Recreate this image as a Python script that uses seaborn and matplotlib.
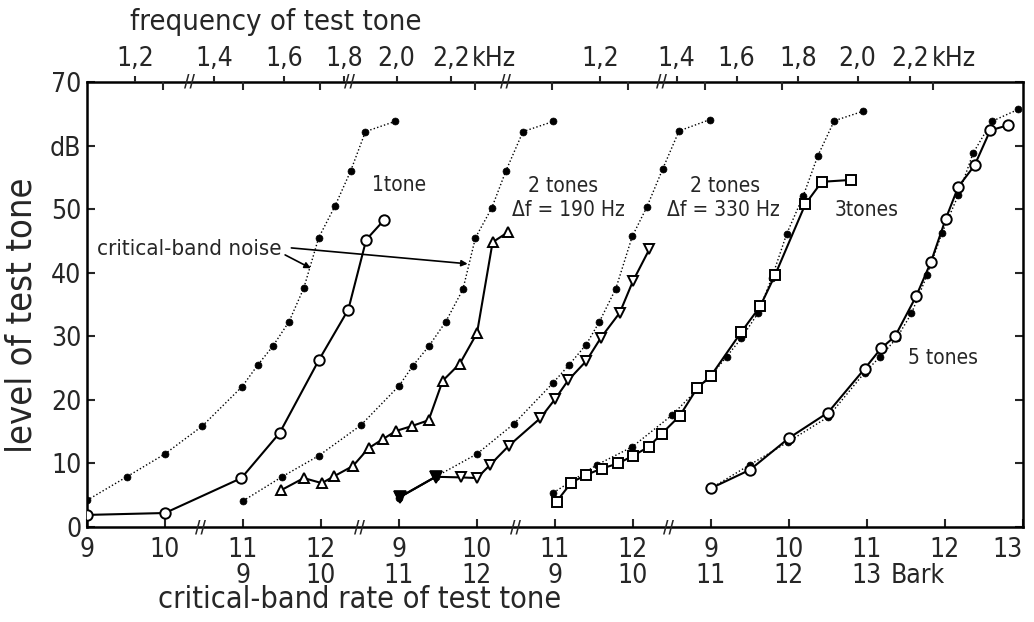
import numpy as np
import pandas as pd
import matplotlib
matplotlib.use("Agg")
import matplotlib.pyplot as plt
import matplotlib.transforms as mtrans
import seaborn as sns

# ---------------- data (x in critical-band-rate axis units of the composite abscissa, y in dB) ------------
noise_1_x = [9.0, 9.51, 10.0, 10.48, 10.99, 11.19, 11.38, 11.59, 11.78, 11.97, 12.18, 12.38, 12.57, 12.95]
noise_1_y = [4.2, 7.9, 11.5, 15.9, 22.1, 25.5, 28.4, 32.3, 37.6, 45.5, 50.5, 56.0, 62.2, 63.8]
tone_1_x = [9.0, 10.0, 10.98, 11.47, 11.97, 12.35, 12.58, 12.81]
tone_1_y = [1.9, 2.2, 7.7, 14.8, 26.2, 34.2, 45.2, 48.3]

noise_2a_x = [11.0, 11.5, 11.97, 12.51, 13.0, 13.18, 13.38, 13.6, 13.82, 13.98, 14.19, 14.37, 14.59, 14.98]
noise_2a_y = [4.1, 7.9, 11.2, 16.0, 22.2, 25.4, 28.4, 32.3, 37.4, 45.5, 50.2, 56.0, 62.2, 63.8]
tone_2a_x = [11.49, 11.78, 12.01, 12.17, 12.41, 12.61, 12.79, 12.96, 13.17, 13.38, 13.56, 13.78, 14.0, 14.2, 14.4]
tone_2a_y = [5.8, 7.7, 6.9, 8.0, 9.6, 12.4, 13.8, 15.1, 15.9, 16.8, 23.0, 25.7, 30.5, 44.8, 46.4]

noise_2b_x = [13.0, 13.47, 14.0, 14.47, 14.97, 15.18, 15.4, 15.57, 15.78, 15.99, 16.18, 16.38, 16.59, 16.99]
noise_2b_y = [4.6, 7.9, 11.5, 16.2, 22.6, 25.5, 28.7, 32.3, 37.5, 45.7, 50.4, 56.3, 62.3, 64.1]
tone_2b_x = [13.01, 13.47, 13.8, 14.0, 14.17, 14.41, 14.81, 15.0, 15.17, 15.4, 15.59, 15.83, 16.0, 16.21]
tone_2b_y = [4.7, 7.9, 7.8, 7.7, 9.8, 12.8, 17.1, 20.1, 23.1, 26.1, 29.8, 33.7, 38.7, 43.7]

noise_3_x = [14.98, 15.54, 15.99, 16.5, 17.0, 17.2, 17.39, 17.6, 17.78, 17.97, 18.18, 18.37, 18.58, 18.95]
noise_3_y = [5.4, 9.8, 12.6, 17.6, 23.8, 26.8, 29.7, 33.6, 39.2, 46.1, 52.0, 58.4, 63.9, 65.4]
tone_3_x = [15.02, 15.21, 15.4, 15.6, 15.81, 16.0, 16.2, 16.37, 16.6, 16.82, 17.0, 17.39, 17.63, 17.82, 18.21, 18.42, 18.8]
tone_3_y = [4.0, 7.0, 8.2, 9.2, 10.0, 11.2, 12.6, 14.7, 17.5, 21.8, 23.8, 30.7, 34.7, 39.6, 50.8, 54.3, 54.6]

noise_5_x = [17.0, 17.5, 17.99, 18.5, 18.97, 19.17, 19.38, 19.57, 19.77, 19.96, 20.17, 20.36, 20.6, 20.94]
noise_5_y = [6.1, 9.8, 13.4, 17.3, 24.3, 26.8, 29.7, 33.6, 39.6, 46.2, 52.2, 58.8, 63.8, 65.7]
tone_5_x = [17.0, 17.5, 18.0, 18.5, 18.97, 19.18, 19.36, 19.63, 19.82, 20.01, 20.17, 20.38, 20.58, 20.81]
tone_5_y = [6.1, 9.0, 14.0, 18.0, 24.9, 28.1, 30.0, 36.3, 41.7, 48.5, 53.5, 56.9, 62.4, 63.2]

# axis labels
bottom_ticks = list(range(9, 22))
bottom_row1 = ["9", "10", "11", "12", "9", "10", "11", "12", "9", "10", "11", "12", "13"]
bottom_row2 = ["", "", "9", "10", "11", "12", "9", "10", "11", "12", "13", "", ""]
top_freq_pos = [9.615, 10.63, 11.53, 12.3, 12.97, 13.67, 15.58, 16.56, 17.33, 18.12, 18.88, 19.55]
top_freq_labels = ["1,2", "1,4", "1,6", "1,8", "2,0", "2,2", "1,2", "1,4", "1,6", "1,8", "2,0", "2,2"]
top_minor_pos = [9.97, 11.0, 11.99, 13.97, 14.96, 15.94, 16.92, 17.91, 19.85]
y_ticks = [0, 10, 20, 30, 40, 50, 60, 70]
y_tick_labels = ["0", "10", "20", "30", "40", "50", "dB", "70"]
bottom_breaks = [10.45, 12.5, 14.49, 16.45]
top_breaks = [10.32, 12.37, 14.36, 16.37]

# ---------------- style ----------------
sns.set_style("white")
plt.rcParams["font.family"] = ["Liberation Sans Narrow", "DejaVu Sans"]
plt.rcParams["font.stretch"] = "condensed"
TICK_FS = 19
LAB_FS = 21
XLAB_FS = 22
YLAB_FS = 26
ANN_FS = 15

fig = plt.figure(figsize=(10.34, 6.22), dpi=100)
ax = fig.add_axes([87 / 1034, 1 - 527 / 622, (1023 - 87) / 1034, (527 - 82) / 622])

noise_kw = dict(color="black", lw=1.0, linestyle=(0, (1, 1.6)), marker="o", markersize=5,
                markerfacecolor="black", markeredgecolor="black", markeredgewidth=0.5)
tone_kw = dict(color="black", lw=1.5, linestyle="-", markersize=7.5, markerfacecolor="white",
               markeredgecolor="black", markeredgewidth=1.4)

series = [
    (noise_1_x, noise_1_y, tone_1_x, tone_1_y, "o"),
    (noise_2a_x, noise_2a_y, tone_2a_x, tone_2a_y, "^"),
    (noise_2b_x, noise_2b_y, tone_2b_x, tone_2b_y, "v"),
    (noise_3_x, noise_3_y, tone_3_x, tone_3_y, "s"),
    (noise_5_x, noise_5_y, tone_5_x, tone_5_y, "o"),
]
for nx, ny, tx, ty, mk in series:
    sns.lineplot(x=nx, y=ny, ax=ax, estimator=None, sort=False, zorder=3, **noise_kw)
for nx, ny, tx, ty, mk in series:
    sns.lineplot(x=tx, y=ty, ax=ax, estimator=None, sort=False, marker=mk, zorder=4, **tone_kw)
# the first two 2-tone (330 Hz) points coincide with the noise points and appear filled
sns.lineplot(x=tone_2b_x[:2], y=tone_2b_y[:2], ax=ax, estimator=None, sort=False, marker="v",
             zorder=5, color="black", lw=1.5, markersize=8, markerfacecolor="black",
             markeredgecolor="black", markeredgewidth=1.2)

ax.set_xlim(9, 21)
ax.set_ylim(0, 70)
ax.set_xlabel("")
ax.set_ylabel("")

for s in ax.spines.values():
    s.set_visible(True)
    s.set_linewidth(1.8)
    s.set_color("black")

ax.set_xticks(bottom_ticks)
ax.set_xticklabels([f"{a}\n{b}" if b else a for a, b in zip(bottom_row1, bottom_row2)],
                   fontsize=TICK_FS, linespacing=1.0, va="top")
last = ax.get_xticklabels()[-1]
last.set_ha("right")
last.set_transform(last.get_transform() + mtrans.ScaledTranslation(10 / 100, 0, fig.dpi_scale_trans))
ax.set_yticks(y_ticks)
ax.set_yticklabels(y_tick_labels, fontsize=TICK_FS)
ax.tick_params(axis="x", direction="in", length=6, width=1.5, pad=7, bottom=True, top=False)
ax.tick_params(axis="y", direction="in", length=6, width=1.5, pad=4, left=True, right=True, labelright=False)

ax2 = ax.twiny()
ax2.set_xlim(ax.get_xlim())
ax2.set_xticks(top_freq_pos)
ax2.set_xticklabels(top_freq_labels, fontsize=TICK_FS)
ax2.set_xticks(top_minor_pos, minor=True)
ax2.tick_params(axis="x", which="major", direction="out", length=4, width=1.5, pad=3)
ax2.tick_params(axis="x", which="minor", direction="in", length=6, width=1.5)
for s in ax2.spines.values():
    s.set_visible(False)
ax2.grid(False)
ax.grid(False)

xt = ax.get_xaxis_transform()
for b in bottom_breaks:
    ax.text(b, 0, "//", transform=xt, ha="center", va="center", fontsize=12, fontweight="bold",
            family="DejaVu Sans", clip_on=False)
for b in top_breaks:
    ax.text(b, 1, "//", transform=xt, ha="center", va="center", fontsize=12, fontweight="bold",
            family="DejaVu Sans", clip_on=False)

# "kHz" suffixes and "Bark"
khz_tr = xt + mtrans.ScaledTranslation(0, 7 / 72, fig.dpi_scale_trans)
ax.text(13.93, 1, "kHz", transform=khz_tr, ha="left", va="bottom", fontsize=TICK_FS, clip_on=False)
ax.text(19.83, 1, "kHz", transform=khz_tr, ha="left", va="bottom", fontsize=TICK_FS, clip_on=False)
ax.text(19.3, 0, "Bark", transform=xt + mtrans.ScaledTranslation(0, -26 / 72, fig.dpi_scale_trans),
        ha="left", va="top", fontsize=TICK_FS, clip_on=False)

# axis titles
fig.text(276 / 1034, 1 - 22 / 622, "frequency of test tone", ha="center", va="center", fontsize=LAB_FS)
fig.text(360 / 1034, 1 - 600 / 622, "critical-band rate of test tone", ha="center", va="center", fontsize=XLAB_FS)
fig.text(22 / 1034, 1 - 315 / 622, "level of test tone", ha="center", va="center", rotation=90, fontsize=YLAB_FS)

# curve annotations
ax.text(12.65, 53.8, "1tone", ha="left", va="center", fontsize=ANN_FS)
ax.text(14.65, 53.6, "2 tones", ha="left", va="center", fontsize=ANN_FS)
ax.text(14.45, 49.9, "Δf = 190 Hz", ha="left", va="center", fontsize=ANN_FS)
ax.text(16.73, 53.6, "2 tones", ha="left", va="center", fontsize=ANN_FS)
ax.text(16.44, 49.9, "Δf = 330 Hz", ha="left", va="center", fontsize=ANN_FS)
ax.text(18.59, 49.9, "3tones", ha="left", va="center", fontsize=ANN_FS)
ax.text(19.53, 26.6, "5 tones", ha="left", va="center", fontsize=ANN_FS)

ax.text(11.5, 43.7, "critical-band noise", ha="right", va="center", fontsize=ANN_FS + 1)
arrow = dict(arrowstyle="-|>", lw=1.2, color="black", mutation_scale=9, shrinkA=0, shrinkB=0)
ax.annotate("", xy=(11.87, 40.7), xytext=(11.54, 42.8), arrowprops=arrow)
ax.annotate("", xy=(13.88, 41.4), xytext=(11.62, 43.9), arrowprops=arrow)

fig.savefig("out.png", dpi=100)
